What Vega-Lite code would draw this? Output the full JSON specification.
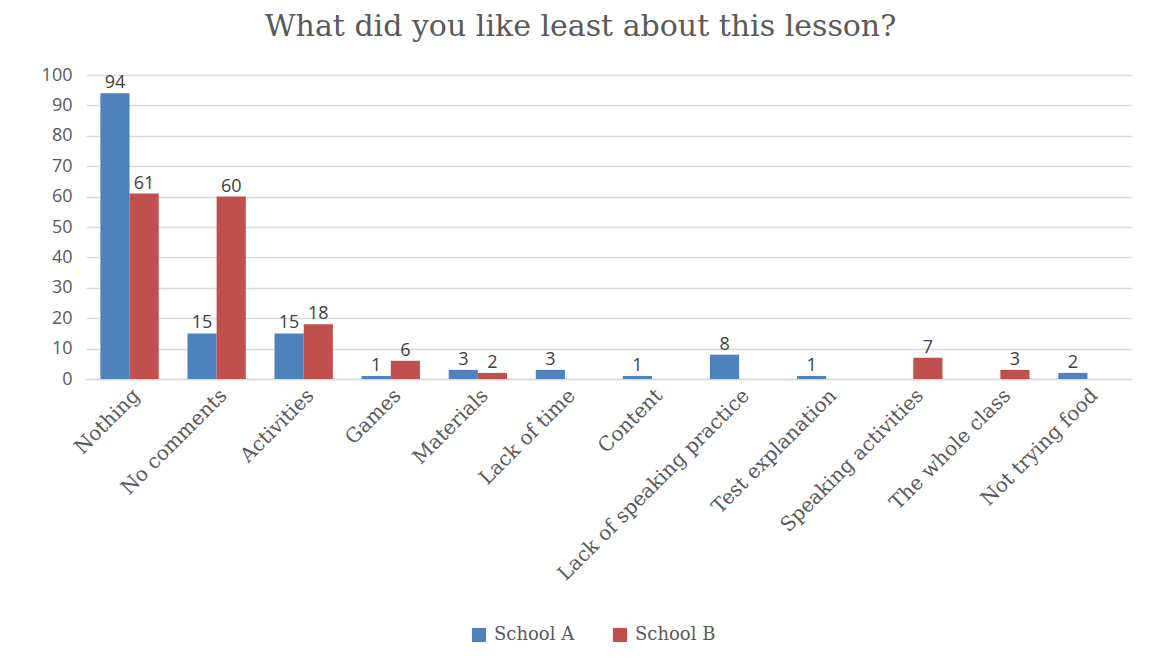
{
  "$schema": "https://vega.github.io/schema/vega-lite/v6.json",
  "width": 1045,
  "height": 304,
  "autosize": {"type": "none"},
  "padding": {"left": 86, "top": 75, "right": 19, "bottom": 292},
  "background": "white",
  "title": {
    "text": "What did you like least about this lesson?",
    "font": "DejaVu Serif",
    "fontSize": 30,
    "fontWeight": "normal",
    "color": "#595959",
    "anchor": "middle",
    "dx": -28,
    "offset": 24
  },
  "data": {
    "values": [
      {"category": "Nothing", "school": "School A", "value": 94},
      {"category": "Nothing", "school": "School B", "value": 61},
      {"category": "No comments", "school": "School A", "value": 15},
      {"category": "No comments", "school": "School B", "value": 60},
      {"category": "Activities", "school": "School A", "value": 15},
      {"category": "Activities", "school": "School B", "value": 18},
      {"category": "Games", "school": "School A", "value": 1},
      {"category": "Games", "school": "School B", "value": 6},
      {"category": "Materials", "school": "School A", "value": 3},
      {"category": "Materials", "school": "School B", "value": 2},
      {"category": "Lack of time", "school": "School A", "value": 3},
      {"category": "Content", "school": "School A", "value": 1},
      {"category": "Lack of speaking practice", "school": "School A", "value": 8},
      {"category": "Test explanation", "school": "School A", "value": 1},
      {"category": "Speaking activities", "school": "School B", "value": 7},
      {"category": "The whole class", "school": "School B", "value": 3},
      {"category": "Not trying food", "school": "School A", "value": 2}
    ]
  },
  "encoding": {
    "x": {
      "field": "category",
      "type": "nominal",
      "sort": null,
      "scale": {"paddingInner": 0.33, "paddingOuter": 0.165},
      "axis": {
        "title": null,
        "labelAngle": -45,
        "labelFont": "DejaVu Serif",
        "labelFontSize": 20,
        "labelColor": "#595959",
        "labelPadding": 6,
        "ticks": false,
        "domainColor": "#d9d9d9",
        "domainWidth": 1.5,
        "labelLimit": 400
      }
    },
    "xOffset": {
      "field": "school",
      "type": "nominal",
      "scale": {"domain": ["School A", "School B"], "paddingInner": 0, "paddingOuter": 0}
    },
    "y": {
      "field": "value",
      "type": "quantitative",
      "scale": {"domain": [0, 100]},
      "axis": {
        "title": null,
        "values": [0, 10, 20, 30, 40, 50, 60, 70, 80, 90, 100],
        "domain": false,
        "ticks": false,
        "gridColor": "#d9d9d9",
        "gridWidth": 1.5,
        "labelFont": "Open Sans",
        "labelFontSize": 18,
        "labelColor": "#595959",
        "labelPadding": 14
      }
    }
  },
  "layer": [
    {
      "mark": {"type": "bar"},
      "encoding": {
        "color": {
          "field": "school",
          "type": "nominal",
          "scale": {"domain": ["School A", "School B"], "range": ["#4F81BD", "#C0504D"]},
          "legend": {
            "title": null,
            "orient": "none",
            "direction": "horizontal",
            "legendX": 384,
            "legendY": 551,
            "symbolType": "square",
            "symbolSize": 200,
            "symbolStrokeWidth": 0,
            "labelFont": "DejaVu Serif",
            "labelFontSize": 18,
            "labelColor": "#595959",
            "columnPadding": 36,
            "labelOffset": 6
          }
        }
      }
    },
    {
      "mark": {"type": "text", "baseline": "bottom", "dy": -1, "font": "Open Sans", "fontSize": 18, "color": "#404040"},
      "encoding": {
        "text": {"field": "value", "type": "quantitative"}
      }
    }
  ],
  "config": {
    "view": {"stroke": null}
  }
}
